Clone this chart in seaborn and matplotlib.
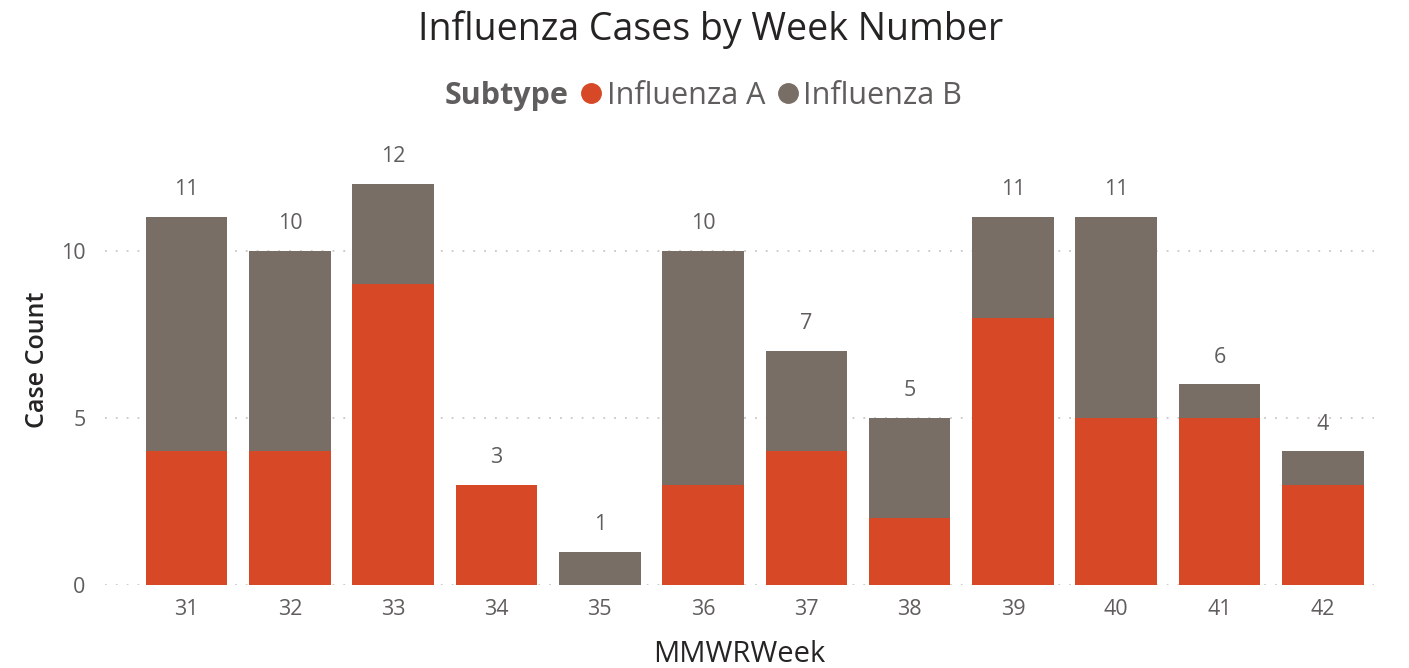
import pandas as pd
import numpy as np
import matplotlib
matplotlib.use("Agg")
import matplotlib.pyplot as plt
import seaborn as sns
from matplotlib.lines import Line2D

# data
weeks = [31, 32, 33, 34, 35, 36, 37, 38, 39, 40, 41, 42]
flu_a = [4, 4, 9, 3, 0, 3, 4, 2, 8, 5, 5, 3]
flu_b = [7, 6, 3, 0, 1, 7, 3, 3, 3, 6, 1, 1]
subtypes = ["Influenza A", "Influenza B"]

RED = "#D64826"
GRAY = "#786E65"
TXT = "#605E5C"
DARK = "#252423"

sns.set_theme(style="white")
plt.rcParams["font.family"] = ["Open Sans", "DejaVu Sans"]

totals = [a + b for a, b in zip(flu_a, flu_b)]
df_tot = pd.DataFrame({"MMWRWeek": [str(w) for w in weeks], "Total": totals})
df_a = pd.DataFrame({"MMWRWeek": [str(w) for w in weeks], "Count": flu_a})

fig = plt.figure(figsize=(14.09, 6.68), dpi=100)
ax = fig.add_axes([0.0745, 0.124, 0.901, 0.676])

# stacked: totals in gray underneath, influenza A drawn over it in red
sns.barplot(data=df_tot, x="MMWRWeek", y="Total", color=GRAY, width=0.79,
            saturation=1, linewidth=0, edgecolor="none", ax=ax)
sns.barplot(data=df_a, x="MMWRWeek", y="Count", color=RED, width=0.79,
            saturation=1, linewidth=0, edgecolor="none", ax=ax)

for i, t in enumerate(totals):
    ax.text(i, t + 0.5, str(t), ha="center", va="bottom", fontsize=15.5, color=TXT)

ax.set_ylim(0, 13.5)
ax.set_xlim(-0.79, 11.5)
ax.set_yticks([0, 5, 10])
for y in [0, 5, 10]:
    ax.axhline(y, color="#C8C8C8", linestyle=(0, (1, 5)), linewidth=1.3, zorder=0)
ax.grid(False)
sns.despine(ax=ax, left=True, bottom=True)
ax.tick_params(axis="both", length=0, labelsize=15.5, labelcolor=TXT)
ax.tick_params(axis="y", pad=14)
ax.tick_params(axis="x", pad=10)
ax.set_xlabel("MMWRWeek", fontsize=21, color=DARK, labelpad=14)
ax.set_ylabel("Case Count", fontsize=18, color=DARK, fontweight="semibold", labelpad=8)

fig.text(0.504, 0.955, "Influenza Cases by Week Number", ha="center", va="center",
         fontsize=27, color=DARK)

# legend: bold "Subtype" label followed by the two circle entries
handles = [Line2D([], [], linestyle="", marker="")]
handles += [Line2D([], [], marker="o", linestyle="", markersize=14, color=c)
            for c in [RED, GRAY]]
leg = fig.legend(handles, ["Subtype"] + subtypes, loc="center",
                 bbox_to_anchor=(0.49, 0.857), ncol=3, frameon=False,
                 fontsize=22, handlelength=0.7, handletextpad=0.15,
                 columnspacing=0.4)
for t in leg.get_texts():
    t.set_color(TXT)
leg.get_texts()[0].set_fontweight("bold")

fig.savefig("out.png", dpi=100)
